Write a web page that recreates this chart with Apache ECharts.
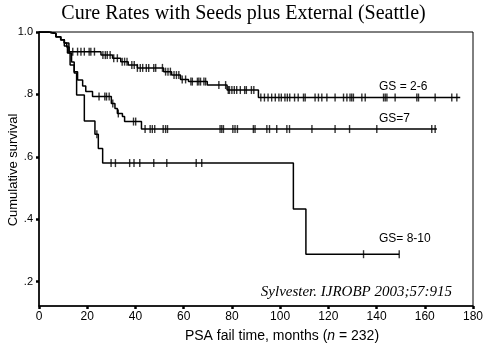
<!DOCTYPE html>
<html><head><meta charset="utf-8">
<script src="https://cdn.jsdelivr.net/npm/echarts@6/dist/echarts.min.js"></script>
<style>html,body{margin:0;padding:0;background:#fff}#c{width:487px;height:345px}</style>
</head><body><div id="c"></div>
<script>
// Kaplan-Meier step data: times where survival changes, and the survival from that time on
var gs26Time = [0, 4, 7, 9, 10.5, 11.5, 12.5, 25.7, 30.5, 33.9, 37, 40.8, 51.7, 55, 58.7, 62, 69.8, 78, 91, 174.7];
var gs26Surv = [1.0, 0.995, 0.985, 0.975, 0.965, 0.952, 0.937, 0.926, 0.916, 0.905, 0.894, 0.885, 0.873, 0.862, 0.848, 0.841, 0.830, 0.814, 0.790, 0.790];
var gs26Cens = [14, 16, 17.4, 18.8, 20.8, 21.5, 23, 26.5, 27.5, 28.3, 29.5, 31, 32.5, 34.5, 35.5, 36.5, 38.5, 39.5, 40.8, 42, 43, 44.5, 45.5, 47.6, 48.4, 51.2, 52.5, 53.5, 54.5, 56, 57, 58, 59.4, 60.8, 63, 63.6, 65.7, 66.3, 67, 68.4, 69.1, 74.6, 77.4, 78.5, 79, 80, 81, 82, 83.5, 85.3, 86, 88.1, 89.1, 92, 93.5, 95, 96.5, 98, 99.5, 100.5, 102, 103, 104, 106, 107.5, 109.7, 110.4, 114.5, 115.9, 117.3, 119.4, 122.8, 126.3, 127.7, 129, 129.7, 130.4, 133.9, 135.3, 142.9, 143.6, 144.3, 147.7, 156.7, 157.4, 164.3, 171.2, 173.3];

var gs7Time = [0, 4, 7, 9, 10.5, 12.4, 13.5, 14.6, 16, 18.1, 19.4, 22.2, 30, 31.5, 32.5, 34.6, 35.5, 42.5, 165];
var gs7Surv = [1.0, 0.995, 0.985, 0.975, 0.965, 0.933, 0.904, 0.873, 0.846, 0.827, 0.809, 0.793, 0.771, 0.755, 0.739, 0.729, 0.713, 0.689, 0.689];
var gs7Cens = [24.9, 27.3, 28.0, 29.1, 30.6, 32.9, 39.2, 40.1, 44, 46.1, 47, 48, 51.5, 52.5, 53.3, 75.1, 75.8, 76.5, 80.4, 81.3, 82.3, 88.9, 89.6, 94.5, 95.6, 98.6, 102.8, 103.9, 113.2, 122.8, 128.8, 140.1, 162.9, 164.3];

var gs810Time = [0, 4, 7, 9, 10.5, 11.8, 12.9, 14.6, 15.6, 18.8, 23.2, 24.6, 26.4, 105.5, 110.7, 149.4];
var gs810Surv = [1.0, 0.995, 0.985, 0.975, 0.955, 0.933, 0.894, 0.869, 0.798, 0.715, 0.672, 0.627, 0.580, 0.433, 0.288, 0.288];
var gs810Cens = [24, 29.9, 31.7, 37.6, 39.4, 41.8, 47.6, 53, 65.2, 67.5, 134.6, 149.4];

var xTicks = [0, 20, 40, 60, 80, 100, 120, 140, 160, 180];
var yTicks = [0.2, 0.4, 0.6, 0.8, 1.0];
var groupLabels = ['GS = 2-6', 'GS=7', 'GS= 8-10'];

function pairs(t, s) { return t.map(function (v, i) { return [v, s[i]]; }); }
function survAt(t, s, x) { var v = s[0]; for (var i = 0; i < t.length; i++) { if (t[i] <= x) v = s[i]; } return v; }
function cens(t, s, c) { return c.map(function (x) { return [x, survAt(t, s, x)]; }); }

var sans = 'Liberation Sans, Arial, sans-serif';
var serif = 'Liberation Serif, Times New Roman, serif';
var chart = echarts.init(document.getElementById('c'));
function curve(t, s) {
  return { type: 'line', step: 'end', data: pairs(t, s), symbol: 'none', animation: false,
    lineStyle: { color: '#000', width: 1.5 } };
}
function censor(t, s, c) {
  return { type: 'scatter', data: cens(t, s, c), symbol: 'rect', symbolSize: [1.4, 8], animation: false,
    itemStyle: { color: '#000' } };
}
chart.setOption({
  backgroundColor: '#fff',
  grid: { left: 39, right: 14, top: 32, bottom: 39, show: true, borderColor: '#000', borderWidth: 1 },
  xAxis: { type: 'value', min: xTicks[0], max: xTicks[xTicks.length - 1], interval: 20,
    axisLine: { lineStyle: { color: '#000', width: 1.5 } },
    axisTick: { length: 3, lineStyle: { color: '#000', width: 2.5 } },
    axisLabel: { color: '#000', fontSize: 12, fontFamily: sans, margin: 5 },
    splitLine: { show: false } },
  yAxis: { type: 'value', min: 0.122, max: 1.0,
    axisLine: { show: true, lineStyle: { color: '#000', width: 1.5 } },
    axisTick: { show: true, length: 3, customValues: yTicks, lineStyle: { color: '#000', width: 2.5 } },
    axisLabel: { color: '#000', fontSize: 11, fontFamily: sans, margin: 6, customValues: yTicks,
      formatter: function (v) { return v >= 0.999 ? '1.0' : '.' + Math.round(v * 10); } },
    splitLine: { show: false } },
  series: [
    curve(gs26Time, gs26Surv), curve(gs7Time, gs7Surv), curve(gs810Time, gs810Surv),
    censor(gs26Time, gs26Surv, gs26Cens), censor(gs7Time, gs7Surv, gs7Cens), censor(gs810Time, gs810Surv, gs810Cens)
  ],
  graphic: [
    { type: 'text', left: 'center', top: 4, style: { text: 'Cure Rates with Seeds plus External (Seattle)', font: '20px ' + serif, fill: '#000' } },
    { type: 'text', x: 13, y: 170, rotation: Math.PI / 2, style: { text: 'Cumulative survival', font: '13px ' + sans, fill: '#000', align: 'center', verticalAlign: 'middle' } },
    { type: 'text', x: 282, y: 336, style: { text: 'PSA fail time, months ({i|n} = 232)', font: '14px ' + sans, fill: '#000', align: 'center', verticalAlign: 'middle',
        rich: { i: { fontStyle: 'italic', fontSize: 14, fontFamily: sans } } } },
    { type: 'text', x: 452, y: 292, style: { text: 'Sylvester. IJROBP 2003;57:915', font: 'italic 15px ' + serif, fill: '#000', align: 'right', verticalAlign: 'middle' } },
    { type: 'text', x: 379, y: 87, style: { text: groupLabels[0], font: '12px ' + sans, fill: '#000', verticalAlign: 'middle' } },
    { type: 'text', x: 379, y: 119, style: { text: groupLabels[1], font: '12px ' + sans, fill: '#000', verticalAlign: 'middle' } },
    { type: 'text', x: 379, y: 239, style: { text: groupLabels[2], font: '12px ' + sans, fill: '#000', verticalAlign: 'middle' } }
  ]
});
</script></body></html>
